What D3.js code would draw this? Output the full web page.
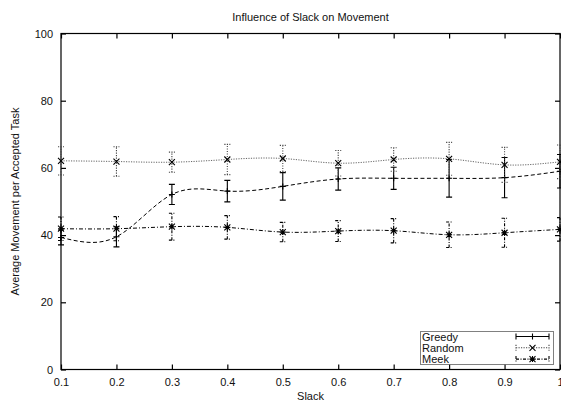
<!DOCTYPE html>
<html>
<head>
<meta charset="utf-8">
<script src="https://cdn.jsdelivr.net/npm/d3@7"></script>
<style>
  body { margin: 0; background: #fff; }
  svg { display: block; font-family: "Liberation Sans", Arial, Helvetica, sans-serif; }
</style>
</head>
<body>
<svg id="chart" width="561" height="402"></svg>
<script>
// Slack values on the x axis
const slack = [0.1, 0.2, 0.3, 0.4, 0.5, 0.6, 0.7, 0.8, 0.9, 1.0];

// Average movement per accepted task, with error half-widths
const greedy    = [39.3, 39.5, 52.1, 53.1, 54.5, 56.7, 56.9, 56.9, 57.1, 59.0];
const greedyErr = [2.2, 3.0, 3.0, 3.2, 4.1, 3.3, 3.3, 5.6, 6.0, 5.0];
const random    = [62.1, 61.9, 61.7, 62.5, 62.8, 61.4, 62.5, 62.7, 60.9, 61.8];
const randomErr = [4.2, 4.4, 3.0, 4.5, 3.9, 3.8, 3.5, 4.9, 5.2, 5.0];
const meek      = [41.9, 41.9, 42.5, 42.3, 40.9, 41.2, 41.3, 40.1, 40.7, 41.7];
const meekErr   = [3.5, 3.6, 4.0, 3.5, 2.9, 3.1, 3.6, 3.8, 4.3, 3.5];

const xTicks = [0.1, 0.2, 0.3, 0.4, 0.5, 0.6, 0.7, 0.8, 0.9, 1.0];
const yTicks = [0, 20, 40, 60, 80, 100];
const seriesNames = ["Greedy", "Random", "Meek"];

(function () {
const svg = d3.select("#chart");
const plotLeft = 61, plotRight = 560, plotTop = 33.5, plotBottom = 369.5;

const x = d3.scaleLinear().domain([0.1, 1.0]).range([plotLeft, plotRight]);
const y = d3.scaleLinear().domain([0, 100]).range([plotBottom, plotTop]);

// Series styles: curve dash, error-bar dash, marker shape
const styles = [
  { values: greedy, err: greedyErr, line: "#000", lineDash: "4,2.5", barColor: "#000", barDash: null, marker: "plus" },
  { values: random, err: randomErr, line: "#666", lineDash: "1.2,1.3", barColor: "#444", barDash: "1.2,1.3", marker: "cross" },
  { values: meek, err: meekErr, line: "#000", lineDash: "4,2,1,2", barColor: "#000", barDash: "3,1.5,1,1.5", marker: "star" }
];

function markerPath(kind, s) {
  const plus = `M${-s},0H${s}M0,${-s}V${s}`;
  const cross = `M${-s},${-s}L${s},${s}M${-s},${s}L${s},${-s}`;
  if (kind === "plus") return plus;
  if (kind === "cross") return cross;
  return plus + cross;
}

// Axis ticks pointing inward on all four sides
const gx = svg.append("g").attr("transform", `translate(0,${plotBottom})`)
  .call(d3.axisBottom(x).tickValues(xTicks).tickSize(-5).tickPadding(9)
        .tickFormat(d => d === 1 ? "1" : d3.format(".1f")(d)));
const gxt = svg.append("g").attr("transform", `translate(0,${plotTop})`)
  .call(d3.axisTop(x).tickValues(xTicks).tickSize(-5).tickFormat(""));
const gy = svg.append("g").attr("transform", `translate(${plotLeft},0)`)
  .call(d3.axisLeft(y).tickValues(yTicks).tickSize(-5).tickPadding(9));
const gyr = svg.append("g").attr("transform", `translate(${plotRight},0)`)
  .call(d3.axisRight(y).tickValues(yTicks).tickSize(-5).tickFormat(""));

[gx, gxt, gy, gyr].forEach(g => {
  g.select(".domain").remove();
  g.selectAll(".tick line").attr("stroke", "#000").attr("stroke-width", 1.2);
  g.selectAll(".tick text").attr("font-size", 11).attr("fill", "#111")
    .attr("font-family", "'Liberation Sans', Arial, sans-serif");
});
gy.selectAll(".tick text").attr("dx", "1");

// Plot frame
svg.append("rect")
  .attr("x", plotLeft).attr("y", plotTop)
  .attr("width", plotRight - plotLeft).attr("height", plotBottom - plotTop)
  .attr("fill", "none").attr("stroke", "#000").attr("stroke-width", 1.2);

const line = d3.line()
  .x((d, i) => x(slack[i]))
  .y(d => y(d))
  .curve(d3.curveNatural);

styles.forEach(st => {
  const g = svg.append("g");
  // smoothed curve
  g.append("path").datum(st.values)
    .attr("d", line)
    .attr("fill", "none")
    .attr("stroke", st.line)
    .attr("stroke-width", 1)
    .attr("stroke-dasharray", st.lineDash);

  // error bars
  const bars = g.selectAll(".bar").data(st.values).enter().append("path")
    .attr("d", (d, i) => {
      const cx = x(slack[i]);
      const y1 = y(d - st.err[i]), y2 = y(d + st.err[i]);
      return `M${cx},${y1}V${y2}M${cx - 3},${y1}H${cx + 3}M${cx - 3},${y2}H${cx + 3}`;
    })
    .attr("fill", "none")
    .attr("stroke", st.barColor)
    .attr("stroke-width", 1.1);
  if (st.barDash) bars.attr("stroke-dasharray", st.barDash);

  // markers
  g.selectAll(".pt").data(st.values).enter().append("path")
    .attr("transform", (d, i) => `translate(${x(slack[i])},${y(d)})`)
    .attr("d", markerPath(st.marker, 3))
    .attr("fill", "none")
    .attr("stroke", "#000")
    .attr("stroke-width", 1.1);
});

// Title and axis labels
svg.append("text")
  .attr("x", (plotLeft + plotRight) / 2).attr("y", 20.5)
  .attr("text-anchor", "middle").attr("font-size", 11).attr("fill", "#111")
  .text("Influence of Slack on Movement");

svg.append("text")
  .attr("x", (plotLeft + plotRight) / 2).attr("y", 400)
  .attr("text-anchor", "middle").attr("font-size", 11).attr("fill", "#111")
  .text("Slack");

svg.append("text")
  .attr("transform", `translate(19,${(plotTop + plotBottom) / 2}) rotate(-90)`)
  .attr("text-anchor", "middle").attr("font-size", 11).attr("fill", "#111")
  .text("Average Movement per Accepted Task");

// Legend
const legX = 420.5, legY = 331.5, legW = 133, legH = 33, rowH = 11.3;
svg.append("rect")
  .attr("x", legX).attr("y", legY).attr("width", legW).attr("height", legH)
  .attr("fill", "#fff").attr("stroke", "#000").attr("stroke-width", 1)
  .attr("stroke-dasharray", "1,1");

styles.forEach((st, k) => {
  const cy = legY + 5 + rowH * k;
  svg.append("text")
    .attr("x", legX + 1.5).attr("y", cy + 4)
    .attr("font-size", 11).attr("fill", "#111")
    .text(seriesNames[k]);
  const x1 = 516, x2 = 549, xm = (x1 + x2) / 2;
  const sample = svg.append("path")
    .attr("d", `M${x1},${cy}H${x2}M${x1},${cy - 3}V${cy + 3}M${x2},${cy - 3}V${cy + 3}`)
    .attr("fill", "none").attr("stroke", st.barColor).attr("stroke-width", 1.1);
  if (st.barDash) sample.attr("stroke-dasharray", st.barDash);
  svg.append("path")
    .attr("transform", `translate(${xm},${cy})`)
    .attr("d", markerPath(st.marker, 3))
    .attr("fill", "none").attr("stroke", "#000").attr("stroke-width", 1.1);
});
})();
</script>
</body>
</html>
